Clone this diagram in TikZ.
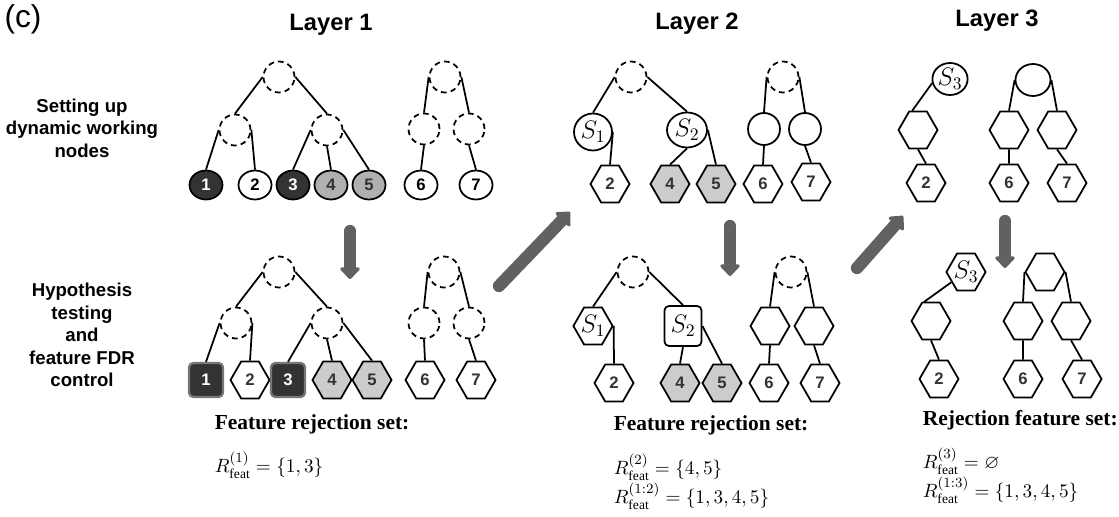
\documentclass[tikz,border=0pt]{standalone}
\usepackage{amssymb}
\usepackage{fontspec}
\setmainfont{Liberation Serif}
\setsansfont{Liberation Sans}
\usetikzlibrary{shapes.geometric,shapes.symbols,arrows.meta}

\definecolor{darkfill}{HTML}{333333}
\definecolor{sqborder}{HTML}{777777}
\definecolor{midfill}{HTML}{B0B0B0}
\definecolor{lightfill}{HTML}{CCCCCC}
\definecolor{numgray}{HTML}{333333}
\definecolor{arrowgray}{HTML}{616161}

\newcommand{\numfont}{\sffamily\bfseries\fontsize{9.5}{11}\selectfont}

\tikzset{
  dnode/.style={circle, draw, dash pattern=on 3.2pt off 2.4pt, minimum size=0.62cm, inner sep=0pt},
  onode/.style={ellipse, draw, minimum width=0.66cm, minimum height=0.58cm, inner sep=0pt, font=\numfont},
  hnode/.style={signal, signal to=east and west, signal pointer angle=120, draw, fill=white,
    minimum width=0.78cm, minimum height=0.74cm, inner sep=0pt, inner xsep=-2pt, font=\numfont, text=numgray},
  qnode/.style={rectangle, rounded corners=2.5pt, draw=sqborder, line width=1.3pt, fill=darkfill,
    minimum size=0.68cm, inner sep=0pt, font=\numfont, text=white},
  snode/.style={ellipse, draw, inner sep=0pt, font=\fontsize{14}{14}\selectfont},
  bigarrow/.style={draw=arrowgray, line width=7pt, line cap=round, -{Triangle[round,length=7pt,width=13pt]}},
  title/.style={font=\sffamily\bfseries\fontsize{13.5}{16}\selectfont},
  rowlabel/.style={align=center, font=\sffamily\bfseries\fontsize{10.6}{12.8}\selectfont},
  settitle/.style={anchor=west, inner sep=0pt, font=\bfseries\fontsize{12.2}{14}\selectfont},
  setmath/.style={anchor=west, inner sep=0pt, font=\fontsize{11}{13}\selectfont}
}

\begin{document}
\begin{tikzpicture}[x=0.02cm, y=-0.02cm, line width=1pt]
\useasboundingbox (0,0) rectangle (1119,517);

% titles and row labels
\node[font=\sffamily\fontsize{18}{21}\selectfont] (panel) at (23,19) {(c)};
\node[title] (t1) at (331,25) {Layer 1};
\node[title] (t2) at (697,24) {Layer 2};
\node[title] (t3) at (997,21) {Layer 3};
\node[rowlabel] (row1) at (82,128) {Setting up\\dynamic working\\nodes};
\node[rowlabel] (row2) at (82,335) {Hypothesis\\testing\\and\\feature FDR\\control};

% layer 1, top
\node[dnode] (a1r) at (279,77) {};
\node[dnode] (a1m1) at (235,130) {};
\node[dnode] (a1m2) at (327,130) {};
\node[onode, fill=darkfill, text=white] (a1f1) at (206,185) {1};
\node[onode] (a1f2) at (255,185) {2};
\node[onode, fill=darkfill, text=white] (a1f3) at (293,185) {3};
\node[onode, fill=midfill, text=numgray] (a1f4) at (331,185) {4};
\node[onode, fill=midfill, text=numgray] (a1f5) at (369,185) {5};
\node[dnode] (a1q) at (445,77) {};
\node[dnode] (a1m3) at (424,129) {};
\node[dnode] (a1m4) at (469,129) {};
\node[onode] (a1f6) at (421,185) {6};
\node[onode] (a1f7) at (476,185) {7};

\draw (a1r.west) -- (a1m1.north) (a1r.east) -- (a1m2.north);
\draw (a1m1.west) -- (a1f1.north) (a1m1.east) -- (a1f2.north);
\draw (a1m2.west) -- (a1f3.north) (a1m2.south) -- (a1f4.north) (a1m2.east) -- (a1f5.north);
\draw (a1q.west) -- (a1m3.north) (a1q.east) -- (a1m4.north);
\draw (a1m3.south) -- (a1f6.north) (a1m4.south) -- (a1f7.north);

% layer 1, bottom
\node[dnode] (b1r) at (279,272) {};
\node[dnode] (b1m1) at (236,323) {};
\node[dnode] (b1m2) at (327,323) {};
\node[qnode] (b1f1) at (206,380) {1};
\node[hnode] (b1f2) at (250,380) {2};
\node[qnode] (b1f3) at (288,380) {3};
\node[hnode, fill=lightfill] (b1f4) at (332,380) {4};
\node[hnode, fill=lightfill] (b1f5) at (372,380) {5};
\node[dnode] (b1q) at (444,272) {};
\node[dnode] (b1m3) at (424,323) {};
\node[dnode] (b1m4) at (469,323) {};
\node[hnode] (b1f6) at (425,380) {6};
\node[hnode] (b1f7) at (476,380) {7};

\draw (b1r.west) -- (b1m1.north) (b1r.east) -- (b1m2.north);
\draw (b1m1.west) -- (b1f1.north) (b1m1.east) -- (b1f2.north);
\draw (b1m2.west) -- (b1f3.north) (b1m2.south) -- (b1f4.north) (b1m2.east) -- (b1f5.north);
\draw (b1q.west) -- (b1m3.north) (b1q.east) -- (b1m4.north);
\draw (b1m3.south) -- (b1f6.north) (b1m4.south) -- (b1f7.north);

% layer 2, top
\node[dnode] (a2r) at (631,77) {};
\node[snode, minimum width=0.76cm, minimum height=0.74cm] (a2s1) at (593,132) {$S_1$};
\node[snode, minimum width=0.8cm, minimum height=0.7cm] (a2s2) at (687,130) {$S_2$};
\node[dnode] (a2q) at (783,77) {};
\node[circle, draw, minimum size=0.64cm] (a2m3) at (764,129) {};
\node[circle, draw, minimum size=0.64cm] (a2m4) at (805,129) {};
\node[hnode] (a2f2) at (610,184) {2};
\node[hnode, fill=lightfill] (a2f4) at (670,184) {4};
\node[hnode, fill=lightfill] (a2f5) at (716,184) {5};
\node[hnode] (a2f6) at (763,184) {6};
\node[hnode] (a2f7) at (811,182) {7};

\draw (a2r.west) -- (a2s1.north) (a2r.east) -- (a2s2.north);
\draw (a2s1.east) -- (a2f2.north);
\draw (a2s2.south) -- (a2f4.north) (a2s2.east) -- (a2f5.north);
\draw (a2q.west) -- (a2m3.north) (a2q.east) -- (a2m4.north);
\draw (a2m3.south) -- (a2f6.north) (a2m4.south) -- (a2f7.north);

% layer 2, bottom
\node[dnode] (b2r) at (633,272) {};
\node[hnode, text=black, font=\fontsize{14}{14}\selectfont] (b2s1) at (593,326) {$S_1$};
\node[rectangle, rounded corners=2.5pt, draw, minimum width=0.74cm, minimum height=0.8cm, inner sep=0pt,
  font=\fontsize{14}{14}\selectfont] (b2s2) at (683,326) {$S_2$};
\node[dnode] (b2q) at (791,272) {};
\node[hnode] (b2m3) at (770,326) {};
\node[hnode] (b2m4) at (814,326) {};
\node[hnode] (b2f2) at (614,383) {2};
\node[hnode, fill=lightfill] (b2f4) at (680,383) {4};
\node[hnode, fill=lightfill] (b2f5) at (722,383) {5};
\node[hnode] (b2f6) at (769,383) {6};
\node[hnode] (b2f7) at (820,383) {7};

\draw (b2r.west) -- (b2s1.north) (b2r.east) -- (b2s2.north);
\draw (b2s1.east) -- (b2f2.north);
\draw (b2s2.south) -- (b2f4.north) (b2s2.east) -- (b2f5.north);
\draw (b2q.west) -- (b2m3.north) (b2q.east) -- (b2m4.north);
\draw (b2m3.south) -- (b2f6.north) (b2m4.south) -- (b2f7.north);

% layer 3, top
\node[snode, minimum width=0.7cm, minimum height=0.64cm] (a3s3) at (950,79) {$S_3$};
\node[ellipse, draw, minimum width=0.7cm, minimum height=0.64cm] (a3q) at (1033,80) {};
\node[hnode] (a3m1) at (918,130) {};
\node[hnode] (a3m3) at (1009,130) {};
\node[hnode] (a3m4) at (1057,130) {};
\node[hnode] (a3f2) at (926,183) {2};
\node[hnode] (a3f6) at (1009,183) {6};
\node[hnode] (a3f7) at (1067,183) {7};

\draw (a3s3.193) -- (a3m1.107) (a3m1.south) -- (a3f2.north);
\draw (a3q.west) -- (a3m3.north) (a3q.east) -- (a3m4.north);
\draw (a3m3.south) -- (a3f6.north) (a3m4.south) -- (a3f7.north);

% layer 3, bottom
\node[hnode, text=black, font=\fontsize{14}{14}\selectfont] (b3s3) at (966,272) {$S_3$};
\node[hnode] (b3q) at (1045,272) {};
\node[hnode] (b3m1) at (931,321) {};
\node[hnode] (b3m3) at (1023,321) {};
\node[hnode] (b3m4) at (1071,321) {};
\node[hnode] (b3f2) at (939,379) {2};
\node[hnode] (b3f6) at (1023,379) {6};
\node[hnode] (b3f7) at (1082,379) {7};

\draw (b3s3.215) -- (b3m1.110) (b3m1.south) -- (b3f2.north);
\draw (b3q.west) -- (b3m3.north) (b3q.east) -- (b3m4.north);
\draw (b3m3.south) -- (b3f6.north) (b3m4.south) -- (b3f7.north);

% arrows between the steps
\coordinate (d1s) at (350,231);
\coordinate (d1e) at (350,279);
\coordinate (g1s) at (499,286);
\coordinate (g1e) at (570,212);
\coordinate (d2s) at (730,226);
\coordinate (d2e) at (730,276);
\coordinate (g2s) at (857,268);
\coordinate (g2e) at (903,216);
\coordinate (d3s) at (1005,221);
\coordinate (d3e) at (1005,268);
\draw[bigarrow] (d1s) -- (d1e);
\draw[bigarrow] (g1s) -- (g1e);
\draw[bigarrow] (d2s) -- (d2e);
\draw[bigarrow] (g2s) -- (g2e);
\draw[bigarrow] (d3s) -- (d3e);

% rejection sets
\node[settitle] (set1) at (214,424) {Feature rejection set:};
\node[setmath] (rej1) at (214,465) {$R^{(1)}_{\mathrm{feat}} = \{1,3\}$};
\node[settitle] (set2) at (613,425) {Feature rejection set:};
\node[setmath] (rej2) at (613,467) {$R^{(2)}_{\mathrm{feat}} = \{4,5\}$};
\node[setmath] (rej12) at (613,496) {$R^{(1:2)}_{\mathrm{feat}} = \{1,3,4,5\}$};
\node[settitle] (set3) at (922,420) {Rejection feature set:};
\node[setmath] (rej3) at (922,461) {$R^{(3)}_{\mathrm{feat}} = \varnothing$};
\node[setmath] (rej13) at (922,490) {$R^{(1:3)}_{\mathrm{feat}} = \{1,3,4,5\}$};
\end{tikzpicture}
\end{document}
